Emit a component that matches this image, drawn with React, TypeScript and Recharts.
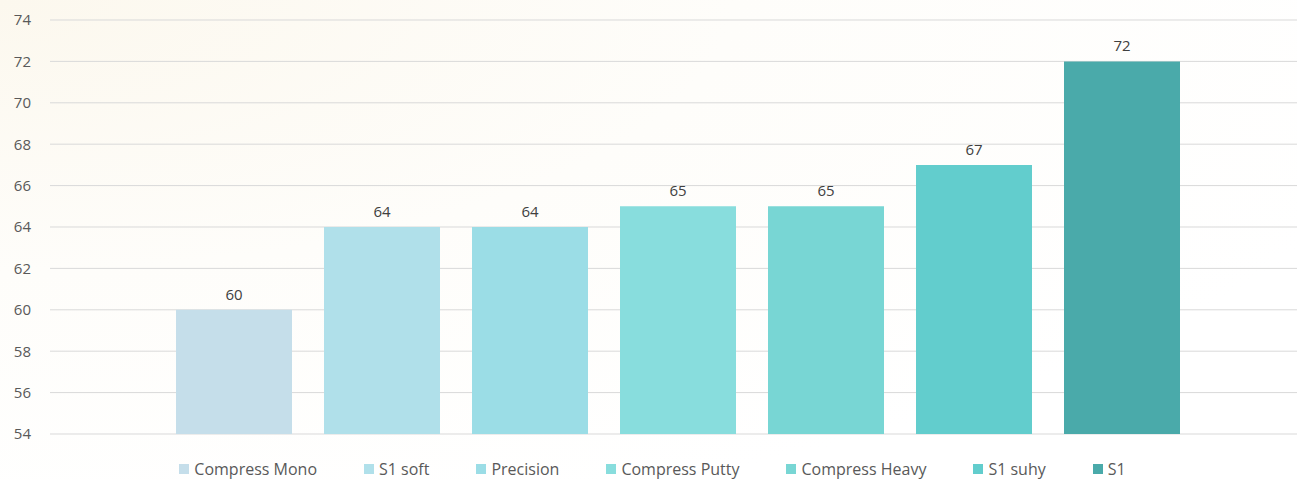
import { Bar, BarChart, CartesianGrid, LabelList, Legend, XAxis, YAxis } from "recharts";

const seriesNames = ["Compress Mono", "S1 soft", "Precision", "Compress Putty", "Compress Heavy", "S1 suhy", "S1"];
const seriesValues = [60, 64, 64, 65, 65, 67, 72];
const seriesColors = ["#C5DEEA", "#B0E0EA", "#9BDDE6", "#88DDDD", "#78D6D4", "#62CDCD", "#4AAAAA"];
const yTicks = [54, 56, 58, 60, 62, 64, 66, 68, 70, 72, 74];

const FONT = "'Open Sans', 'Noto Sans', sans-serif";

// one category, one bar per series
const row: Record<string, string | number> = { name: "all" };
seriesNames.forEach((n, i) => {
  row[n] = seriesValues[i];
});
const data = [row];

function LegendBox(props: any) {
  // keep the series order, not alphabetical
  const items = [...(props.payload || [])].sort(
    (a: any, b: any) => seriesNames.indexOf(a.value) - seriesNames.indexOf(b.value)
  );
  return (
    <div
      style={{
        display: "flex",
        justifyContent: "center",
        paddingTop: 26,
        lineHeight: "18px",
        fontFamily: FONT,
        fontSize: 16,
        color: "#595959",
      }}
    >
      {items.map((it: any, i: number) => (
        <span key={it.value} style={{ display: "inline-flex", alignItems: "center", marginLeft: i === 0 ? 0 : 47 }}>
          <span style={{ width: 10, height: 10, background: it.color, marginRight: 5, display: "inline-block" }} />
          {it.value}
        </span>
      ))}
    </div>
  );
}

export default function App() {
  return (
    <div
      style={{
        position: "absolute",
        left: 0,
        top: 0,
        width: 1297,
        height: 480,
        overflow: "hidden",
        background: "radial-gradient(ellipse at 0% 0%, #FCF8EE 0%, #FEFDFA 40%, #FFFFFF 80%)",
      }}
    >
      <BarChart
        width={1297}
        height={480}
        data={data}
        margin={{ top: 20, right: -8, bottom: 6, left: 0 }}
        barSize={116}
        barGap={32}
      >
        <CartesianGrid vertical={false} stroke="#D9D9D9" />
        <XAxis dataKey="name" hide />
        <YAxis
          domain={[54, 74]}
          ticks={yTicks}
          width={50}
          tickLine={false}
          axisLine={false}
          tickMargin={13}
          interval={0}
          tick={{ fill: "#595959", fontSize: 15, fontFamily: FONT }}
        />
        <Legend verticalAlign="bottom" height={40} content={<LegendBox />} />
        {seriesNames.map((n, i) => (
          <Bar key={n} dataKey={n} fill={seriesColors[i]} isAnimationActive={false}>
            <LabelList dataKey={n} position="top" offset={10} fill="#404040" fontSize={15} fontFamily={FONT} />
          </Bar>
        ))}
      </BarChart>
    </div>
  );
}
